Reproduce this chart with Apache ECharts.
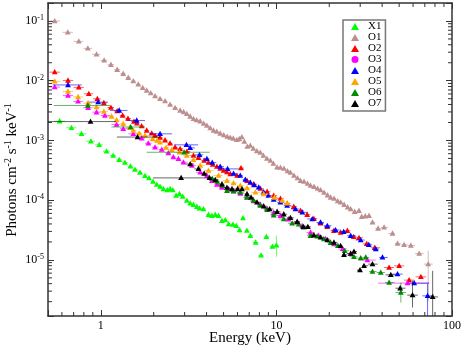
<!DOCTYPE html>
<html>
<head>
<meta charset="utf-8">
<script src="https://cdn.jsdelivr.net/npm/echarts@6/dist/echarts.min.js"></script>
<style>
  html, body { margin: 0; padding: 0; background: #fff; }
  #chart { width: 463px; height: 347px; }
</style>
</head>
<body>
<div id="chart"></div>
<script>
// points: [energy keV, flux, eLo?, eHi?, fLo?, fHi?]
const x1 = [[0.583,2.10e-3],[0.680,1.63e-3],[0.776,1.29e-3],[0.877,9.70e-4],[0.978,8.44e-4],[1.078,6.59e-4],[1.176,5.58e-4],[1.272,4.72e-4],[1.371,4.26e-4],[1.474,3.69e-4],[1.564,3.25e-4],[1.671,2.89e-4],[1.784,2.55e-4],[1.880,2.34e-4],[1.982,2.04e-4],[2.081,1.82e-4],[2.174,1.69e-4],[2.270,1.54e-4],[2.393,1.48e-4],[2.480,1.54e-4],[2.569,1.48e-4],[2.683,1.19e-4],[2.803,1.27e-4],[2.922,1.15e-4],[3.088,9.81e-5],[3.226,8.83e-5],[3.369,8.40e-5],[3.523,7.78e-5],[3.646,7.28e-5],[3.842,7.11e-5],[4.104,5.71e-5],[4.291,5.49e-5],[4.482,5.71e-5],[4.681,5.49e-5],[4.895,4.53e-5],[5.113,4.65e-5],[5.340,3.99e-5],[5.656,3.91e-5],[5.907,3.73e-5],[6.170,3.16e-5],[6.452,5.03e-5],[6.784,3.10e-5],[7.102,2.54e-5],[7.615,1.96e-5],[8.177,1.19e-5],[8.768,2.44e-5],[9.487,1.67e-5],[10.0,1.76e-5,null,null,1.13e-5,2.54e-5]];

const o1 = [[0.546,0.100],[0.648,0.0646],[0.749,0.0456],[0.843,0.0348],[0.945,0.0276],[1.044,0.0219],[1.141,0.01855],[1.239,0.0153],[1.341,0.0131],[1.432,0.01123],[1.530,9.85e-3],[1.634,8.67e-3],[1.731,7.63e-3],[1.824,6.87e-3],[1.923,6.19e-3],[2.035,5.51e-3],[2.174,4.99e-3],[2.321,4.55e-3],[2.480,4.00e-3],[2.648,3.52e-3],[2.828,3.18e-3],[2.961,3.00e-3],[3.088,2.79e-3],[3.226,2.52e-3],[3.369,2.30e-3],[3.513,2.20e-3],[3.680,2.10e-3],[3.853,1.92e-3],[4.018,1.78e-3],[4.197,1.61e-3],[4.383,1.47e-3],[4.571,1.41e-3],[4.786,1.31e-3],[5.012,1.23e-3],[5.248,1.16e-3],[5.458,1.12e-3],[5.679,1.08e-3],[5.947,1.02e-3],[6.146,1.06e-3],[6.352,1.14e-3],[6.564,9.58e-4],[6.829,7.90e-4],[7.102,8.21e-4],[7.389,7.31e-4],[7.737,6.64e-4],[8.10,6.27e-4],[8.43,5.58e-4],[8.825,4.97e-4],[9.24,4.60e-4],[9.61,4.10e-4],[10.09,3.55e-4],[10.54,3.51e-4],[11.04,3.38e-4],[11.56,3.07e-4],[12.02,2.89e-4],[12.59,2.58e-4],[13.18,2.34e-4],[13.71,2.12e-4],[14.36,2.04e-4],[15.04,1.89e-4],[15.64,1.75e-4],[16.38,1.68e-4],[17.15,1.56e-4],[17.84,1.48e-4],[18.68,1.34e-4],[19.56,1.21e-4],[20.35,1.11e-4],[21.31,1.06e-4],[22.32,9.62e-5],[23.21,9.19e-5],[24.30,8.40e-5],[25.45,7.63e-5],[26.48,7.12e-5],[27.91,6.41e-5],[29.53,6.66e-5],[30.59,5.29e-5],[32.04,5.39e-5],[33.68,5.49e-5],[35.24,4.24e-5],[37.93,3.36e-5],[41.04,3.50e-5],[45.83,2.77e-5],[48.96,1.88e-5],[53.4,1.79e-5],[58.3,1.74e-5],[65.03,1.28e-5],[73.2,8.50e-6,null,null,2.06e-6,1.42e-5]];

const o2 = [[0.546,1.39e-2],[0.650,1.01e-2],[0.749,7.72e-3],[0.854,6.05e-3],[0.955,4.99e-3],[1.040,4.24e-3],[1.141,3.56e-3],[1.239,3.09e-3],[1.330,2.62e-3],[1.427,2.33e-3],[1.544,2.07e-3],[1.606,1.94e-3],[1.708,1.74e-3],[1.824,1.47e-3],[1.949,1.32e-3],[2.035,1.21e-3],[2.174,1.12e-3],[2.321,1.01e-3],[2.480,8.97e-4],[2.648,7.69e-4],[2.828,7.23e-4],[3.088,6.52e-4],[3.369,5.58e-4],[3.597,5.11e-4],[3.877,4.60e-4],[4.104,4.26e-4],[4.337,3.94e-4],[4.583,3.65e-4],[4.786,3.38e-4],[5.001,3.13e-4],[5.226,2.95e-4],[5.458,2.75e-4],[5.963,2.58e-4],[6.284,3.44e-4],[6.80,2.12e-4],[7.42,1.85e-4],[8.10,1.56e-4],[8.85,1.39e-4],[9.65,1.19e-4],[10.54,1.06e-4],[11.51,8.73e-5],[12.56,7.78e-5],[13.71,6.67e-5],[14.97,5.71e-5],[16.34,4.89e-5],[17.83,4.11e-5],[19.49,3.59e-5],[21.26,3.08e-5],[23.21,2.88e-5],[25.35,3.08e-5],[27.54,2.44e-5],[29.53,2.35e-5],[32.68,1.86e-5],[36.31,1.60e-5],[43.83,7.45e-6],[50.0,7.96e-6],[57.0,4.58e-6],[66.5,5.20e-6]];

const o3 = [[0.546,7.81e-3],[0.650,5.66e-3],[0.742,4.50e-3],[0.846,3.52e-3],[0.945,2.97e-3],[1.054,2.62e-3],[1.229,1.85e-3],[1.341,1.57e-3],[1.530,1.29e-3],[1.708,1.09e-3],[1.863,8.97e-4],[2.035,7.69e-4],[2.223,7.04e-4],[2.424,6.15e-4],[2.589,5.26e-4],[2.765,4.91e-4],[2.953,4.31e-4],[3.299,3.79e-4],[3.680,2.93e-4],[4.018,2.58e-4],[4.291,2.12e-4],[4.583,1.82e-4],[4.895,1.62e-4],[5.340,1.54e-4],[5.70,1.42e-4],[6.23,1.29e-4],[6.80,1.12e-4],[7.42,9.62e-5],[8.10,8.40e-5],[8.85,7.20e-5],[9.65,6.17e-5],[10.54,5.49e-5],[11.71,4.80e-5],[13.13,4.24e-5],[14.03,3.73e-5],[15.64,2.88e-5],[17.38,2.54e-5],[19.05,2.26e-5],[21.26,1.84e-5],[23.84,1.53e-5],[26.48,1.27e-5],[32.98,9.93e-6,29.4,36.8],[55.8,4.08e-6,37.9,74.2]];

const o4 = [[0.650,8.50e-3,0.532,0.779],[0.965,4.38e-3,0.829,1.096],[1.272,3.18e-3,1.126,1.417],[1.600,2.16e-3,1.408,1.784],[2.174,1.29e-3,1.880,2.545],[3.072,8.44e-4,2.613,3.584],[3.226,7.51e-4],[3.646,5.73e-4],[4.018,4.91e-4],[4.31,4.26e-4],[4.786,3.65e-4],[5.268,3.34e-4,4.663,6.107],[5.70,2.78e-4],[6.223,2.58e-4],[6.65,2.21e-4],[7.102,1.97e-4],[7.486,1.79e-4],[7.924,1.64e-4],[8.462,1.36e-4],[9.00,1.19e-4],[9.65,1.02e-4],[10.54,9.18e-5],[11.51,8.09e-5],[12.84,7.11e-5],[14.03,6.24e-5],[16.0,4.84e-5],[17.83,4.24e-5],[19.49,3.73e-5],[21.73,3.16e-5],[24.15,2.96e-5],[26.48,2.54e-5],[30.2,2.15e-5],[33.55,1.79e-5],[36.8,1.52e-5],[40.18,1.10e-5],[48.96,5.78e-6],[60.9,4.08e-6,56.8,73.9],[72.6,2.50e-6,null,null,1e-7,3.97e-6]];

const o5 = [[0.546,9.73e-3],[0.650,6.61e-3],[0.742,5.35e-3],[0.846,4.21e-3],[0.945,3.61e-3],[1.040,3.05e-3],[1.151,2.52e-3],[1.229,2.20e-3],[1.341,1.90e-3],[1.465,1.63e-3],[1.530,1.47e-3],[1.655,1.32e-3],[1.784,1.21e-3],[1.974,1.06e-3],[2.089,9.96e-4],[2.174,9.33e-4],[2.352,7.60e-4],[2.535,6.95e-4],[2.803,6.34e-4],[3.088,5.58e-4],[3.369,4.72e-4],[3.680,3.79e-4],[4.104,3.13e-4],[4.681,2.58e-4],[5.226,2.12e-4],[5.70,1.93e-4],[6.223,1.75e-4],[6.80,1.60e-4],[7.59,1.35e-4],[8.46,1.27e-4],[9.74,1.11e-4],[10.78,9.81e-5],[11.51,8.83e-5]];

const o6 = [[0.843,3.85e-3,0.539,1.126],[1.478,1.68e-3,1.148,1.784],[2.981,6.34e-4,1.824,4.169],[4.31,2.30e-4],[4.60,2.04e-4],[4.91,1.75e-4],[5.23,1.44e-4],[5.70,1.41e-4],[6.23,1.35e-4],[6.80,1.11e-4],[7.42,9.81e-5],[8.10,8.09e-5],[8.85,6.93e-5],[9.65,5.60e-5],[11.01,4.84e-5],[12.29,4.11e-5],[13.41,3.96e-5],[14.32,3.52e-5],[15.64,2.54e-5],[17.08,2.49e-5],[18.64,2.23e-5],[20.35,1.94e-5],[22.40,1.72e-5],[24.47,1.42e-5],[27.65,1.13e-5],[30.20,1.07e-5],[32.27,1.10e-5],[35.24,6.38e-6],[39.29,6.15e-6],[43.83,4.18e-6],[51.13,2.84e-6,null,null,1.93e-6,4.18e-6]];

const o7 = [[0.873,2.07e-3,0.498,1.218],[1.617,1.14e-3,1.234,2.174],[2.865,2.36e-4,1.982,4.088],[3.226,4.02e-4],[3.597,3.34e-4],[3.877,2.78e-4],[4.158,2.36e-4],[4.482,2.18e-4],[4.895,1.85e-4],[5.226,1.62e-4],[5.584,1.54e-4],[6.010,1.54e-4],[6.368,1.53e-4],[6.801,1.27e-4],[7.168,1.11e-4],[7.757,9.18e-5],[8.462,7.93e-5],[9.156,7.11e-5],[10.09,6.41e-5],[11.01,5.82e-5],[12.02,5.08e-5],[13.13,4.36e-5],[14.21,3.59e-5],[15.10,3.59e-5],[16.34,2.59e-5],[17.84,2.39e-5],[19.49,2.15e-5],[21.26,1.96e-5],[23.21,1.72e-5],[24.25,1.22e-5],[26.48,1.28e-5],[27.65,1.38e-5],[29.92,6.75e-6],[31.54,7.96e-6],[35.24,8.50e-6],[44.82,5.62e-6],[50.66,3.36e-6],[59.6,2.57e-6,null,null,1.59e-6,4.46e-6],[77.6,2.40e-6,null,null,1e-7,6.56e-6]];

const names = ['X1', 'O1', 'O2', 'O3', 'O4', 'O5', 'O6', 'O7'];
const colors = ['#00ff00', '#bc8f8f', '#ff0000', '#ff00ff', '#0000ff', '#ffa500', '#008b00', '#000000'];
const xTicks = [1, 10, 100];
const yTicks = [1e-5, 1e-4, 1e-3, 1e-2, 1e-1];

const FONT = '"Liberation Serif", "DejaVu Serif", serif';
const xMin = 0.5, xMax = 100, yMin = 1.15e-6, yMax = 0.2;
const AX = '#333';

// horizontal bar ends: given, or halfway (in log) to the neighbours
function barEnds(pts) {
    return pts.map(function (p, i) {
        if (p[2] != null) return [p[2], p[3]];
        const l = Math.log10(p[0]);
        let dl = pts[i - 1] ? Math.abs(l - Math.log10(pts[i - 1][0])) / 2 : null;
        let dh = pts[i + 1] ? Math.abs(Math.log10(pts[i + 1][0]) - l) / 2 : null;
        if (dl == null) dl = dh;
        if (dh == null) dh = dl;
        dl = Math.min(dl, 0.03);
        dh = Math.min(dh, 0.03);
        return [Math.pow(10, l - dl), Math.pow(10, l + dh)];
    });
}

function makeSeries(name, color, pts) {
    const bars = barEnds(pts);
    return {
        name: name,
        type: 'custom',
        clip: true,
        itemStyle: { color: color },
        data: pts.map(function (p) { return [p[0], p[1]]; }),
        encode: { x: 0, y: 1 },
        renderItem: function (params, api) {
            const i = params.dataIndex;
            const p = pts[i];
            const c = api.coord([p[0], p[1]]);
            const a = api.coord([bars[i][0], p[1]]);
            const b = api.coord([bars[i][1], p[1]]);
            const kids = [{
                type: 'line',
                shape: { x1: a[0], y1: a[1], x2: b[0], y2: b[1] },
                style: { stroke: color, lineWidth: 1, opacity: 0.6 }
            }];
            if (p[4] != null) {
                const d = api.coord([p[0], p[4]]);
                const u = api.coord([p[0], p[5]]);
                kids.push({
                    type: 'line',
                    shape: { x1: d[0], y1: d[1], x2: u[0], y2: u[1] },
                    style: { stroke: color, lineWidth: 1, opacity: 0.6 }
                });
            }
            kids.push({
                type: 'polygon',
                shape: { points: [[c[0], c[1] - 3.1], [c[0] - 2.9, c[1] + 2.2], [c[0] + 2.9, c[1] + 2.2]] },
                style: { fill: color }
            });
            return { type: 'group', children: kids };
        }
    };
}

// minor ticks on all four sides
function minorTicks() {
    const xs = [], ys = [];
    for (let n = -1; n <= 1; n++) {
        for (let k = 2; k <= 9; k++) {
            const v = k * Math.pow(10, n);
            if (v > xMin && v < xMax) xs.push(v);
        }
    }
    for (let n = -6; n <= -1; n++) {
        for (let k = 2; k <= 9; k++) {
            const v = k * Math.pow(10, n);
            if (v > yMin && v < yMax) ys.push(v);
        }
    }
    return {
        type: 'custom',
        silent: true,
        data: [[1, 1e-3]],
        renderItem: function (params, api) {
            const kids = [];
            const st = { stroke: AX, lineWidth: 1 };
            xs.forEach(function (v) {
                const b = api.coord([v, yMin]);
                const t = api.coord([v, yMax]);
                kids.push({ type: 'line', shape: { x1: b[0], y1: b[1], x2: b[0], y2: b[1] - 4 }, style: st });
                kids.push({ type: 'line', shape: { x1: t[0], y1: t[1], x2: t[0], y2: t[1] + 4 }, style: st });
            });
            ys.forEach(function (v) {
                const l = api.coord([xMin, v]);
                const r = api.coord([xMax, v]);
                kids.push({ type: 'line', shape: { x1: l[0], y1: l[1], x2: l[0] + 4, y2: l[1] }, style: st });
                kids.push({ type: 'line', shape: { x1: r[0], y1: r[1], x2: r[0] - 4, y2: r[1] }, style: st });
            });
            return { type: 'group', children: kids };
        }
    };
}

function isTick(list, v) {
    for (let i = 0; i < list.length; i++) {
        if (Math.abs(list[i] - v) / list[i] < 1e-6) return true;
    }
    return false;
}

const baseAxis = {
    type: 'log',
    logBase: 10,
    axisLine: { show: true, lineStyle: { color: AX, width: 1.5 } },
    axisTick: { show: true, inside: true, length: 6, lineStyle: { color: AX, width: 1 } },
    splitLine: { show: false },
    minorTick: { show: false }
};

const chart = echarts.init(document.getElementById('chart'));
const allData = [x1, o1, o2, o3, o4, o5, o6, o7];

chart.setOption({
    animation: false,
    backgroundColor: '#fff',
    grid: { left: 48, right: 11, top: 3, bottom: 31, containLabel: false, outerBoundsMode: 'none' },
    xAxis: [
        Object.assign({}, baseAxis, {
            min: xMin, max: xMax, position: 'bottom',
            axisLabel: {
                margin: 4, fontFamily: FONT, fontSize: 12, color: '#000',
                formatter: function (v) { return isTick(xTicks, v) ? String(Math.round(v)) : ''; }
            }
        }),
        Object.assign({}, baseAxis, {
            min: xMin, max: xMax, position: 'top', axisLabel: { show: false }
        })
    ],
    yAxis: [
        Object.assign({}, baseAxis, {
            min: yMin, max: yMax, position: 'left',
            axisLabel: {
                margin: 4, color: '#000',
                formatter: function (v) {
                    if (!isTick(yTicks, v)) return '';
                    return '{b|10}{s|' + Math.round(Math.log10(v)) + '}';
                },
                rich: {
                    b: { fontFamily: FONT, fontSize: 12, color: '#000', lineHeight: 14 },
                    s: { fontFamily: FONT, fontSize: 8, color: '#000', verticalAlign: 'top', lineHeight: 14, padding: [0, 0, 6, 0] }
                }
            }
        }),
        Object.assign({}, baseAxis, {
            min: yMin, max: yMax, position: 'right', axisLabel: { show: false }
        })
    ],
    legend: {
        orient: 'vertical',
        left: 343, top: 20,
        padding: [1, 4, 2, 8],
        itemGap: 0,
        itemWidth: 8, itemHeight: 7,
        borderColor: '#777', borderWidth: 1.5,
        backgroundColor: '#fff',
        textStyle: { fontFamily: FONT, fontSize: 11, color: '#000', lineHeight: 11, padding: [0, 0, 0, 4] },
        data: names.map(function (n) { return { name: n, icon: n === 'O3' ? 'circle' : 'triangle' }; })
    },
    graphic: [{
        type: 'text',
        x: 250, y: 338,
        style: {
            text: 'Energy (keV)',
            align: 'center', verticalAlign: 'middle',
            font: '15px ' + FONT, fill: '#000'
        }
    }, {
        type: 'text',
        x: 12, y: 170,
        rotation: Math.PI / 2,
        style: {
            text: '{a|Photons cm}{s|-2}{a| s}{s|-1}{a| keV}{s|-1}',
            align: 'center', verticalAlign: 'middle',
            rich: {
                a: { fontFamily: FONT, fontSize: 15, fill: '#000', lineHeight: 18 },
                s: { fontFamily: FONT, fontSize: 10, fill: '#000', verticalAlign: 'top', lineHeight: 18, padding: [0, 0, 8, 0] }
            }
        }
    }],
    series: names.map(function (n, i) { return makeSeries(n, colors[i], allData[i]); }).concat([minorTicks()])
});
</script>
</body>
</html>
